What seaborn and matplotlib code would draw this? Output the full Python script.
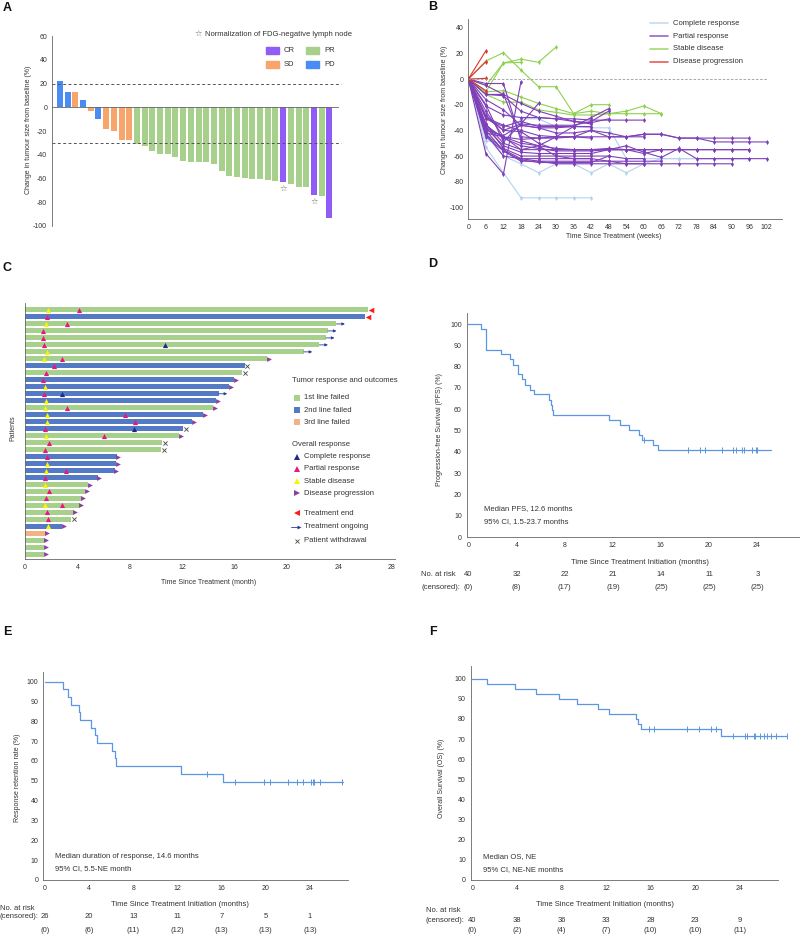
import numpy as np
import pandas as pd
import matplotlib
matplotlib.use("Agg")
import matplotlib.pyplot as plt
from matplotlib.lines import Line2D
from matplotlib.patches import Rectangle
import seaborn as sns

W, H = 800, 936

# ---------------- A: waterfall ----------------
wf_change = [22, 13, 12.5, 6.5, -3.4, -9.8, -18.5, -20.4, -27.5, -27.7,
             -31, -32.7, -36.5, -39, -39.3, -41.5, -45, -46, -46, -46.5,
             -47.6, -54, -58.2, -59, -59.2, -60.2, -60.5, -61, -62.4,
             -63.3, -64.7, -67.5, -67.5, -74.2, -74.7, -92.9]
wf_resp = (["PD", "PD", "SD", "PD", "SD", "PD", "SD", "SD", "SD", "SD"]
           + ["PR"] * 19 + ["CR", "PR", "PR", "PR", "CR", "PR", "CR"])
wf_star = [29, 33]

# ---------------- B: spider ----------------
visit_weeks = [0, 6, 12, 18, 24, 30, 36, 42, 48, 54, 60, 66, 72, 78, 84, 90, 96, 102]
cr_vals = [
    [0, -41, -60, -66, -73, -66, -66, -73, -66, -73, -66, -62, -62, -62, -62, -62, -62],
    [0, -53, -73, -92.5, -92.5, -92.5, -92.5, -92.5],
    [0, -48, -50, -31, -31, -37, -37, -38, -38, -62, -62, -62, -62, -62, -62, -62, -62],
]
pr_vals = [
    [0, -38, -45, -50, -52, -54, -55, -55, -54, -55, -55, -55, -55, -55, -55, -55, -55],
    [0, -30, -36, -40, -44, -45, -45, -40, -45, -45, -43, -43, -46, -46, -49, -49, -49, -49],
    [0, -42, -45, -47, -46, -45, -45, -45, -45, -45, -43, -43, -46, -46, -46, -46, -46],
    [0, -35, -50, -55, -55, -55, -55, -55, -55, -52, -57, -61, -54, -62, -62, -62, -62, -62],
    [0, -43, -55, -62, -64, -66, -66, -66, -66, -66, -66, -66, -66, -66, -66, -66],
    [0, -12, -13, -25, -30, -31, -31, -32, -32, -32, -32],
    [0, -25, -45, -55, -52, -45, -37, -30, -23],
    [0, -30, -40, -35, -36, -36, -36, -33, -25],
    [0, -3.5, -3.5, -48, -52, -60, -62, -62],
    [0, -58, -74, -2],
    [0, -20, -49, -35, -19],
    [0, -16, -24, -36, -38, -38, -37, -37],
    [0, -21, -28, -30, -30, -31, -33, -34, -31],
    [0, -35, -54, -60, -60, -60, -60, -60, -60],
    [0, -40, -56, -64, -64, -64, -64, -64, -64, -66, -66],
    [0, -43, -60, -62, -62, -62, -62, -62, -64, -64, -64, -64],
    [0, -12, -12, -19, -25, -29, -33, -35],
    [0, -5, -12, -45, -46, -46, -45, -46],
    [0, -28, -40, -41, -50, -55, -55, -55, -55, -55, -55],
    [0, -38, -52, -57, -58, -58, -58, -58, -55, -55, -58, -55, -55, -55, -55, -55, -55],
    [0, -31, -37, -33, -37, -37, -37, -37],
    [0, -45, -56, -63, -65, -65, -65, -65, -60, -62, -62],
    [0, -40, -44, -36, -38, -42, -42, -40, -42, -45, -45],
    [0, -36, -46, -52, -54, -56, -56, -56, -55, -55, -55, -55],
]
sd_vals = [
    [0, 14, 20.5, 7, -6, -6, -27, -20, -20],
    [0, -10, 12.5, 15.5, 13, 25],
    [0, -5, 12.5, 13],
    [0, -10, -9, -14, -19, -23, -27, -25, -27, -25, -21, -27],
    [0, -12, -18, -18, -24, -26, -28, -28, -27, -27, -27, -27],
]
pd_vals = [[0, 22], [0, 13.5], [0, 0.5], [0, -9]]

# ---------------- C: swimmer ----------------
sw_end = [26.2, 26.0, 23.8, 23.15, 23.0, 22.5, 21.3, 18.5, 16.8, 16.6, 16.0, 15.6,
          14.8, 14.6, 14.4, 13.6, 12.8, 12.1, 11.8, 10.5, 10.4, 7.0, 6.95, 6.85,
          5.57, 4.83, 4.6, 4.33, 4.18, 3.72, 3.54, 2.83, 1.57, 1.52, 1.47, 1.47]
sw_line = ["1st", "2nd", "1st", "1st", "1st", "1st", "1st", "1st", "2nd", "1st", "2nd", "2nd",
           "2nd", "2nd", "1st", "2nd", "2nd", "2nd", "1st", "1st", "1st", "2nd", "2nd", "2nd",
           "2nd", "1st", "1st", "1st", "1st", "1st", "1st", "2nd", "3rd", "1st", "1st", "1st"]
sw_outcome = (["end", "end"] + ["ongoing"] * 5 + ["pd", "wd", "wd", "pd", "pd", "ongoing"]
              + ["pd"] * 4 + ["wd", "pd", "wd", "wd"] + ["pd"] * 9 + ["wd"] + ["pd"] * 5)
resp_row = [0, 0, 1, 2, 2, 3, 4, 5, 5, 6, 7, 7, 8, 9, 10, 11, 12, 12, 13, 14, 14, 15, 15,
            16, 16, 17, 17, 18, 18, 19, 20, 21, 22, 23, 23, 24, 25, 26, 27, 28, 28, 29, 30, 31]
resp_month = [1.77, 4.1, 1.7, 1.57, 3.2, 1.4, 1.34, 1.42, 10.7, 1.67, 1.44, 2.86, 2.18, 1.6,
              1.37, 1.5, 1.42, 2.8, 1.57, 1.5, 3.2, 1.65, 7.67, 1.67, 8.4, 1.55, 8.3, 1.57,
              6.0, 1.8, 1.5, 1.65, 1.7, 1.57, 3.14, 1.5, 1.5, 1.8, 1.57, 1.55, 2.86, 1.65,
              1.72, 1.72]
resp_type = ["SD", "PR", "PR", "SD", "PR", "PR", "PR", "PR", "CR", "SD", "SD", "PR", "PR", "PR",
             "PR", "SD", "PR", "CR", "SD", "SD", "PR", "SD", "PR", "SD", "PR", "PR", "CR", "SD",
             "PR", "PR", "PR", "PR", "SD", "SD", "PR", "PR", "SD", "PR", "PR", "SD", "PR", "PR",
             "PR", "SD"]

# ---------------- D/E/F: Kaplan-Meier ----------------
pfs_t = [0, 1.1, 1.45, 2.7, 3.45, 3.7, 4.1, 4.5, 4.75, 5.1, 5.45, 6.7, 6.85, 6.95, 7.05,
         11.7, 12.6, 13.35, 14.2, 14.45, 15.4, 15.75, 25.2]
pfs_s = [100, 97.5, 88, 86, 83.5, 81, 76.5, 74, 71.5, 69, 67, 64.5, 62, 59.5, 57.5,
         55, 52.8, 50.4, 48, 45.6, 43.2, 41, 41]
pfs_cens = [14.65, 18.3, 19.25, 19.7, 21.1, 22.0, 22.3, 22.8, 22.9, 23.6, 23.9, 24.05]
pfs_risk = ["40", "32", "22", "21", "14", "11", "3"]
pfs_censn = ["(0)", "(8)", "(17)", "(19)", "(25)", "(25)", "(25)"]

dor_t = [0, 1.6, 2.05, 2.4, 3.1, 3.17, 4.14, 4.56, 4.7, 6.07, 6.3, 6.43, 12.3, 16.1, 27.0]
dor_s = [100, 96.1, 92.3, 88.4, 84.6, 80.7, 76.8, 73, 69.1, 65.2, 61.3, 57.5, 53.5, 49.2, 49.2]
dor_cens = [14.7, 17.25, 19.8, 20.35, 22.0, 22.8, 23.4, 24.1, 24.3, 24.4, 24.9, 26.9]
dor_risk = ["26", "20", "13", "11", "7", "5", "1"]
dor_censn = ["(0)", "(6)", "(11)", "(12)", "(13)", "(13)", "(13)"]

os_t = [0, 1.3, 3.8, 5.7, 7.8, 9.35, 11.3, 12.3, 14.65, 14.9, 15.1, 22.3, 28.2]
os_s = [100, 97.5, 95, 92.5, 90, 87.5, 85, 82.5, 80, 77.5, 75, 71.6, 71.6]
os_cens = [15.85, 16.3, 19.25, 20.35, 21.4, 21.9, 23.4, 24.45, 24.6, 25.3, 25.4, 25.8,
           26.2, 26.45, 26.75, 27.2, 28.2]
os_risk = ["40", "38", "36", "33", "28", "23", "9"]
os_censn = ["(0)", "(2)", "(4)", "(7)", "(10)", "(10)", "(11)"]
risk_months = [0, 4, 8, 12, 16, 20, 24]

# ---------------- style ----------------
sns.set_style("white")
plt.rcParams["font.family"] = ["Liberation Sans", "DejaVu Sans"]
plt.rcParams["font.size"] = 5
plt.rcParams["axes.unicode_minus"] = False
TXT = "#333333"
SP = "#666666"

fig = plt.figure(figsize=(8, 9.36), dpi=100)


def rect(l, t, r, b):
    return [l / W, 1 - b / H, (r - l) / W, (b - t) / H]


def ftext(x, y, s, **kw):
    kw.setdefault("fontsize", 5)
    kw.setdefault("va", "center")
    kw.setdefault("color", TXT)
    fig.text(x / W, 1 - y / H, s, **kw)


def fmark(x, y, **kw):
    fig.add_artist(Line2D([x / W], [1 - y / H], linestyle="none", **kw))


def style_ax(ax):
    sns.despine(ax=ax)
    for s in ["left", "bottom"]:
        ax.spines[s].set_color(SP)
        ax.spines[s].set_linewidth(0.6)
    ax.tick_params(labelsize=5, length=2, width=0.5, color=SP, labelcolor=TXT, pad=1.5)


for lab, x, y in [("A", 7, 8), ("B", 433, 7), ("C", 7, 268), ("D", 433, 264),
                  ("E", 7, 632), ("F", 433, 632)]:
    ftext(x, y, lab, fontsize=9, fontweight="bold", color="#111", ha="center")

# ---------- A ----------
axA = fig.add_axes(rect(52, 36, 338, 226))
pal_wf = {"CR": "#8f5cf5", "PR": "#a8d08d", "SD": "#f7a56b", "PD": "#4b8bf4"}
dfA = pd.DataFrame({"pt": range(len(wf_change)), "chg": wf_change, "resp": wf_resp})
sns.barplot(data=dfA, x="pt", y="chg", hue="resp", palette=pal_wf, dodge=False,
            width=0.78, saturation=1, linewidth=0, legend=False, ax=axA)
style_ax(axA)
axA.spines["bottom"].set_position(("data", 0))
axA.set_xlim(-1.04, 36.13)
axA.set_ylim(-100, 60)
axA.set_yticks(range(-100, 61, 20))
axA.set_xticks(range(len(wf_change)))
axA.set_xticklabels([])
axA.tick_params(axis="x", length=1.5, direction="inout")
axA.set_xlabel("")
axA.set_ylabel("Change in tumour size from baseline (%)", fontsize=5, color=TXT)
axA.yaxis.set_label_coords(-0.071, 0.505)
for yv in [20, -30]:
    axA.axhline(yv, color="#555", lw=0.7, ls=(0, (3, 2.5)), xmin=0.0, xmax=1.01, clip_on=False)
for i in wf_star:
    axA.text(i, wf_change[i] - 2, "\u2606", ha="center", va="top", fontsize=6,
             color="#666", family=["DejaVu Sans"])
ftext(198, 34, "\u2606", fontsize=6, color="#666", ha="center", family=["DejaVu Sans"])
ftext(205, 34, "Normalization of FDG-negative lymph node", fontsize=5.5)
for name, px, py in [("CR", 266, 50.5), ("PR", 306, 50.5), ("SD", 266, 64.7), ("PD", 306, 64.7)]:
    fig.add_artist(Rectangle((px / W, 1 - (py + 3.7) / H), 13.3 / W, 7.4 / H,
                             color=pal_wf[name], transform=fig.transFigure))
    ftext(px + 18, py, name, fontsize=5.5)

# ---------- B ----------
axB = fig.add_axes(rect(468.3, 19.3, 781.7, 219))
pal_sp = {"Complete response": "#b4d2ee", "Partial response": "#7e3fb8",
          "Stable disease": "#8ed14f", "Disease progression": "#e0332e"}
recs = []
for grp, lines in [("Complete response", cr_vals), ("Stable disease", sd_vals),
                   ("Partial response", pr_vals), ("Disease progression", pd_vals)]:
    for k, vals in enumerate(lines):
        for w, v in zip(visit_weeks, vals):
            recs.append((grp, grp + str(k), w, v))
dfB = pd.DataFrame(recs, columns=["grp", "pid", "week", "chg"])
for grp in ["Complete response", "Stable disease", "Partial response", "Disease progression"]:
    sub = dfB[dfB["grp"] == grp]
    sns.lineplot(data=sub, x="week", y="chg", units="pid", estimator=None, sort=False,
                 color=pal_sp[grp], lw=0.8, marker="d", markersize=2.6, markeredgewidth=0,
                 ax=axB)
style_ax(axB)
axB.plot([0, 102], [0, 0], color="#999", lw=0.6, ls=(0, (3, 2)))
axB.set_xlim(0, 107.1)
axB.set_ylim(-109, 46.5)
axB.set_xticks(visit_weeks)
axB.set_yticks(range(-100, 41, 20))
axB.set_xlabel("")
axB.set_ylabel("Change in tumour size from baseline (%)", fontsize=5, color=TXT)
axB.yaxis.set_label_coords(-0.065, 0.546)
ftext(614, 236, "Time Since Treatment (weeks)", ha="center")
for k, (name, col) in enumerate(pal_sp.items()):
    y = 23.3 + k * 12.8
    fig.add_artist(Line2D([650 / W, 668 / W], [1 - y / H] * 2, color=col, lw=1.2,
                          alpha=0.8, transform=fig.transFigure))
    ftext(673, y, name, fontsize=5.5)

# ---------- C ----------
axC = fig.add_axes(rect(25, 303, 395, 559))
pal_line = {"1st": "#a8d08d", "2nd": "#5479c5", "3rd": "#f4b183"}
dfC = pd.DataFrame({"row": range(len(sw_end)), "end": sw_end, "line": sw_line})
sns.barplot(data=dfC, x="end", y="row", hue="line", orient="y", native_scale=True,
            dodge=False, palette=pal_line, saturation=1, width=0.72, linewidth=0,
            legend=False, ax=axC)
resp_col = {"CR": "#1f2b8a", "PR": "#e8177f", "SD": "#f8f500"}
dfR = pd.DataFrame({"row": resp_row, "month": resp_month, "type": resp_type})
for t, col in resp_col.items():
    sub = dfR[dfR["type"] == t]
    axC.scatter(sub["month"], sub["row"], marker="^", s=14, color=col, linewidths=0, zorder=4)
for i, (e, o) in enumerate(zip(sw_end, sw_outcome)):
    if o == "pd":
        axC.scatter(e + 0.12, i, marker=">", s=12, color="#8e3f9e", linewidths=0, zorder=4)
    elif o == "end":
        axC.scatter(e + 0.22, i, marker="<", s=16, color="#ff1a1a", linewidths=0, zorder=4)
    elif o == "wd":
        axC.scatter(e + 0.2, i, marker="x", s=9, color="#444", linewidths=0.6, zorder=4)
    else:
        axC.annotate("", xy=(e + 0.65, i), xytext=(e, i),
                     arrowprops=dict(arrowstyle="-|>", color="#2c3a9c", lw=0.6,
                                     mutation_scale=4, shrinkA=0, shrinkB=0))
style_ax(axC)
axC.set_xlim(0, 28.28)
axC.set_ylim(35.67, -1.0)
axC.set_yticks([])
axC.set_xticks(range(0, 29, 4))
axC.set_xlabel("")
axC.set_ylabel("Patients", fontsize=5, color=TXT)
axC.yaxis.set_label_coords(-0.022, 0.51)
ftext(209, 582, "Time Since Treatment (month)", ha="center")
ftext(291.5, 381, "Tumor response and outcomes", fontsize=5.5)
for k, (name, key) in enumerate([("1st line failed", "1st"), ("2nd line failed", "2nd"),
                                 ("3rd line failed", "3rd")]):
    y = 397.7 + k * 12.3
    fmark(296.7, y, marker="s", markersize=4, color=pal_line[key], markeredgewidth=0)
    ftext(304, y, name, fontsize=5.5)
ftext(291.5, 444, "Overall response", fontsize=5.5)
leg_resp = [("Complete response", "^", resp_col["CR"]), ("Partial response", "^", resp_col["PR"]),
            ("Stable disease", "^", resp_col["SD"]), ("Disease progression", ">", "#8e3f9e")]
for k, (name, m, col) in enumerate(leg_resp):
    y = 456.7 + k * 12.2
    fmark(296.7, y, marker=m, markersize=3.8, color=col, markeredgewidth=0)
    ftext(304, y, name, fontsize=5.5)
fmark(296.7, 513.3, marker="<", markersize=4, color="#ff1a1a", markeredgewidth=0)
ftext(304, 513.3, "Treatment end", fontsize=5.5)
fig.add_artist(Line2D([290.5 / W, 299 / W], [1 - 527 / H] * 2, color="#2c3a9c", lw=0.6,
                      transform=fig.transFigure))
fmark(299, 527, marker=">", markersize=2.8, color="#2c3a9c", markeredgewidth=0)
ftext(304, 527, "Treatment ongoing", fontsize=5.5)
fmark(296.7, 540.7, marker="x", markersize=3, color="#444", markeredgewidth=0.6)
ftext(304, 540.7, "Patient withdrawal", fontsize=5.5)


# ---------- D/E/F ----------
def km_panel(box, xlim, ylim, t, s, cens, ylabel, ylab_xy, spine_end, notes, note_xy,
             xlab_xy, risk, censn, x0, pxm, risk_y, cens_y, head_xy):
    ax = fig.add_axes(rect(*box))
    km = pd.DataFrame({"t": t, "s": s})
    sns.lineplot(data=km, x="t", y="s", estimator=None, sort=False, drawstyle="steps-post",
                 color="#5b97e0", lw=0.9, ax=ax)
    idx = np.searchsorted(np.array(t), np.array(cens), side="right") - 1
    ax.scatter(cens, np.array(s)[idx], marker="|", s=14, color="#5b97e0", linewidths=0.7,
               zorder=3)
    style_ax(ax)
    ax.set_xlim(*xlim)
    ax.set_ylim(*ylim)
    ax.spines["bottom"].set_bounds(xlim[0], spine_end)
    ax.spines["left"].set_bounds(0, ylim[1])
    ax.set_xticks(risk_months)
    ax.set_yticks(range(0, 101, 10))
    ax.set_xlabel("")
    ax.set_ylabel(ylabel, fontsize=5, color=TXT)
    ax.yaxis.set_label_coords(*ylab_xy)
    for k, n in enumerate(notes):
        ftext(note_xy[0], note_xy[1] + k * 12.5, n, fontsize=5.5)
    ftext(xlab_xy[0], xlab_xy[1], "Time Since Treatment Initiation (months)", ha="center",
          fontsize=5.5)
    ftext(head_xy[0], head_xy[1], "No. at risk", fontsize=5.5)
    ftext(head_xy[0], head_xy[2], "(censored):", fontsize=5.5)
    for m, r, c in zip(risk_months, risk, censn):
        ftext(x0 + pxm * m, risk_y, r, ha="center", fontsize=5.5)
        ftext(x0 + pxm * m, cens_y, c, ha="center", fontsize=5.5)
    return ax


km_panel((466.7, 313, 800, 537), (-0.13, 27.6), (0, 105.2), pfs_t, pfs_s, pfs_cens,
         "Progression-free Survival (PFS) (%)", (-0.070, 0.478), 27.6,
         ["Median PFS, 12.6 months", "95% CI, 1.5-23.7 months"], (484, 509),
         (640, 562), pfs_risk, pfs_censn, 468.3, 12.05, 575, 587.5, (421, 575, 587.5))

km_panel((43.3, 672.3, 348, 880), (-0.15, 27.45), (0, 104.7), dor_t, dor_s, dor_cens,
         "Response retention rate (%)", (-0.074, 0.49), 27.45,
         ["Median duration of response, 14.6 months", "95% CI, 5.5-NE month"], (55, 856),
         (180, 904), dor_risk, dor_censn, 45, 11.04, 917, 930, (0, 908, 917))

km_panel((470.7, 666, 787.8, 880), (-0.14, 28.3), (0, 106.3), os_t, os_s, os_cens,
         "Overall Survival (OS) (%)", (-0.081, 0.477), 27.4,
         ["Median OS, NE", "95% CI, NE-NE months"], (483.3, 856.7),
         (605, 904), os_risk, os_censn, 472.3, 11.15, 920, 930.7, (426, 910.7, 920))

fig.savefig("out.png", dpi=100)
